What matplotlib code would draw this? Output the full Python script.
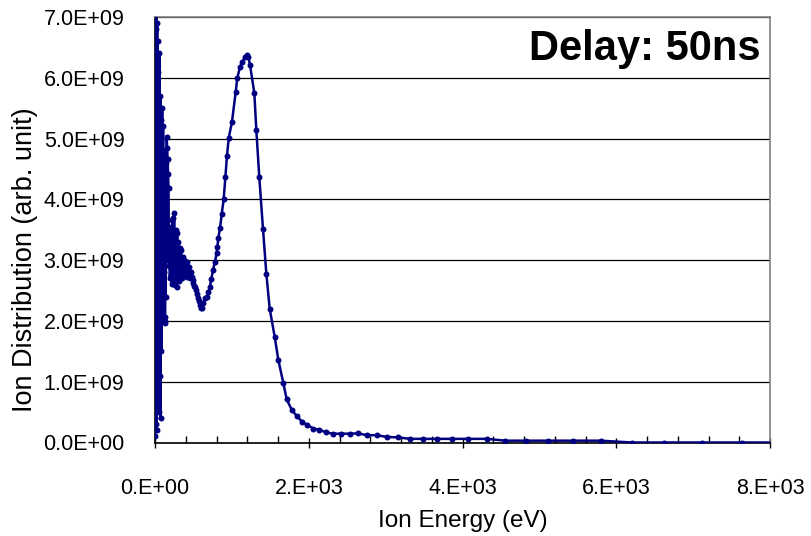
import matplotlib
matplotlib.use("Agg")
import matplotlib.pyplot as plt
from matplotlib.ticker import MultipleLocator

plt.rcParams['font.family'] = ['Liberation Sans', 'DejaVu Sans']

# --- Data (energy in eV, distribution in units of 1e9) ---
# very low energy, strongly fluctuating part
e_low_a = [0.5, 1, 1.5, 2, 3, 4, 5, 6, 7, 8, 9, 10, 11, 12, 13, 14, 15, 16, 18, 20,
           22, 24, 26, 28, 30, 32, 34, 36, 38, 40]
v_low_a = [0.1, 7.5, 0.4, 6.9, 1.2, 7.2, 0.6, 5.8, 2.1, 7.4, 0.3, 6.4, 1.6, 6.8, 0.9,
           5.5, 3.0, 7.1, 1.4, 6.2, 0.2, 5.9, 2.5, 6.9, 1.0, 4.8, 3.3, 6.6, 0.8, 5.2]

e_low_b = [42, 45, 48, 51, 54, 57, 60, 63, 66, 69, 72, 75, 78, 81, 84, 87, 90, 93, 96,
           99, 102, 105, 108, 111, 114, 117, 120, 123, 126, 129]
v_low_b = [1.8, 6.1, 0.5, 5.4, 2.6, 6.4, 1.1, 4.9, 3.4, 5.7, 0.4, 4.5, 2.2, 5.3, 1.5,
           4.2, 3.8, 5.5, 2.0, 4.6, 3.1, 5.2, 2.4, 4.0, 3.5, 4.8, 2.8, 3.9, 2.06, 1.96]

e_low_c = [132, 136, 140, 144, 148, 152, 158, 164, 170, 176, 182, 188, 194, 200, 206,
           212, 218, 224, 230, 236, 242, 248, 254, 260]
v_low_c = [2.0, 3.6, 2.4, 4.6, 3.0, 5.03, 4.84, 4.66, 4.41, 4.18, 2.9, 3.55, 2.7, 3.3,
           2.75, 3.45, 2.6, 3.66, 2.9, 3.7, 2.65, 3.77, 3.2, 2.59]

e_low_d = [265, 272, 280, 288, 296, 304, 312, 320, 330, 340, 350, 360, 370, 380, 390,
           400, 410, 420, 430, 440, 452, 464, 476, 488, 500, 512, 524, 536, 548, 560,
           572, 584, 596]
v_low_d = [2.6, 3.5, 2.56, 3.44, 2.8, 3.3, 2.65, 3.2, 2.9, 3.17, 2.7, 3.05, 2.75, 3.0,
           2.85, 2.95, 2.72, 2.97, 2.8, 2.89, 2.7, 2.8, 2.72, 2.67, 2.62, 2.58, 2.55,
           2.51, 2.45, 2.38, 2.32, 2.26, 2.22]

# main peak
e_peak = [607, 628, 650, 673, 693, 712, 733, 754, 780, 802, 812, 823, 846, 868, 894,
          915, 936, 959, 1002, 1050, 1071, 1106, 1136, 1171, 1193, 1213, 1236, 1292,
          1318, 1357, 1405, 1448, 1492]
v_peak = [2.21, 2.29, 2.37, 2.40, 2.47, 2.55, 2.69, 2.84, 2.97, 3.12, 3.22, 3.36, 3.53,
          3.76, 4.01, 4.37, 4.71, 5.01, 5.28, 5.77, 6.00, 6.18, 6.26, 6.35, 6.37, 6.35,
          6.21, 5.75, 5.14, 4.36, 3.51, 2.78, 2.20]

# high energy tail
e_tail = [1557, 1604, 1669, 1713, 1778, 1847, 1916, 1981, 2059, 2133, 2224, 2312, 2416,
          2533, 2645, 2758, 2888, 3022, 3157, 3317, 3490, 3664, 3867, 4072, 4315, 4557,
          4822, 5112, 5441, 5798, 6201, 6621, 7112, 7640, 8250]
v_tail = [1.74, 1.36, 0.98, 0.71, 0.54, 0.43, 0.34, 0.29, 0.23, 0.21, 0.17, 0.145, 0.145,
          0.145, 0.15, 0.12, 0.12, 0.09, 0.085, 0.06, 0.06, 0.06, 0.06, 0.06, 0.06, 0.03,
          0.03, 0.03, 0.03, 0.03, 0.0, 0.0, 0.0, 0.0, 0.0]

energy = e_low_a + e_low_b + e_low_c + e_low_d + e_peak + e_tail
dist = [v * 1e9 for v in (v_low_a + v_low_b + v_low_c + v_low_d + v_peak + v_tail)]

x_ticks = [0, 2000, 4000, 6000, 8000]
x_tick_labels = ["0.E+00", "2.E+03", "4.E+03", "6.E+03", "8.E+03"]
y_ticks = [0, 1e9, 2e9, 3e9, 4e9, 5e9, 6e9, 7e9]
y_tick_labels = ["0.0E+00", "1.0E+09", "2.0E+09", "3.0E+09", "4.0E+09", "5.0E+09",
                 "6.0E+09", "7.0E+09"]

# --- Figure ---
fig = plt.figure(figsize=(8.11, 5.36), dpi=100)
ax = fig.add_axes([155 / 811, 1 - 442.5 / 536, 615 / 811, 425.5 / 536])

color = "#000080"
ax.plot(energy, dist, color=color, lw=1.8, marker='o', ms=4.3,
        markeredgewidth=0, zorder=3)

ax.set_xlim(0, 8000)
ax.set_ylim(0, 7e9)

ax.set_yticks(y_ticks)
ax.set_yticklabels(y_tick_labels, fontsize=15.5)
ax.set_xticks(x_ticks)
ax.set_xticklabels(x_tick_labels, fontsize=15.5)
ax.xaxis.set_minor_locator(MultipleLocator(400))

ax.tick_params(axis='y', length=0, pad=22)
ax.tick_params(axis='x', which='major', direction='inout', length=7, width=1,
               pad=22, color='black')
ax.tick_params(axis='x', which='minor', direction='in', length=5, width=1,
               color='black')

ax.grid(axis='y', color='black', lw=0.9)
ax.set_axisbelow(True)

for s in ['top', 'right']:
    ax.spines[s].set_color('#808080')
    ax.spines[s].set_linewidth(1.2)
for s in ['left', 'bottom']:
    ax.spines[s].set_color('black')
    ax.spines[s].set_linewidth(1.2)

ax.set_xlabel("Ion Energy (eV)", fontsize=17.5, labelpad=8)
ax.set_ylabel("Ion Distribution (arb. unit)", fontsize=19.5)
ax.yaxis.set_label_coords(-0.19, 0.43)

ax.text(0.985, 0.925, "Delay: 50ns", transform=ax.transAxes, ha='right', va='center',
        fontsize=30, fontweight='bold', zorder=5)

fig.savefig("out.png", dpi=100)
